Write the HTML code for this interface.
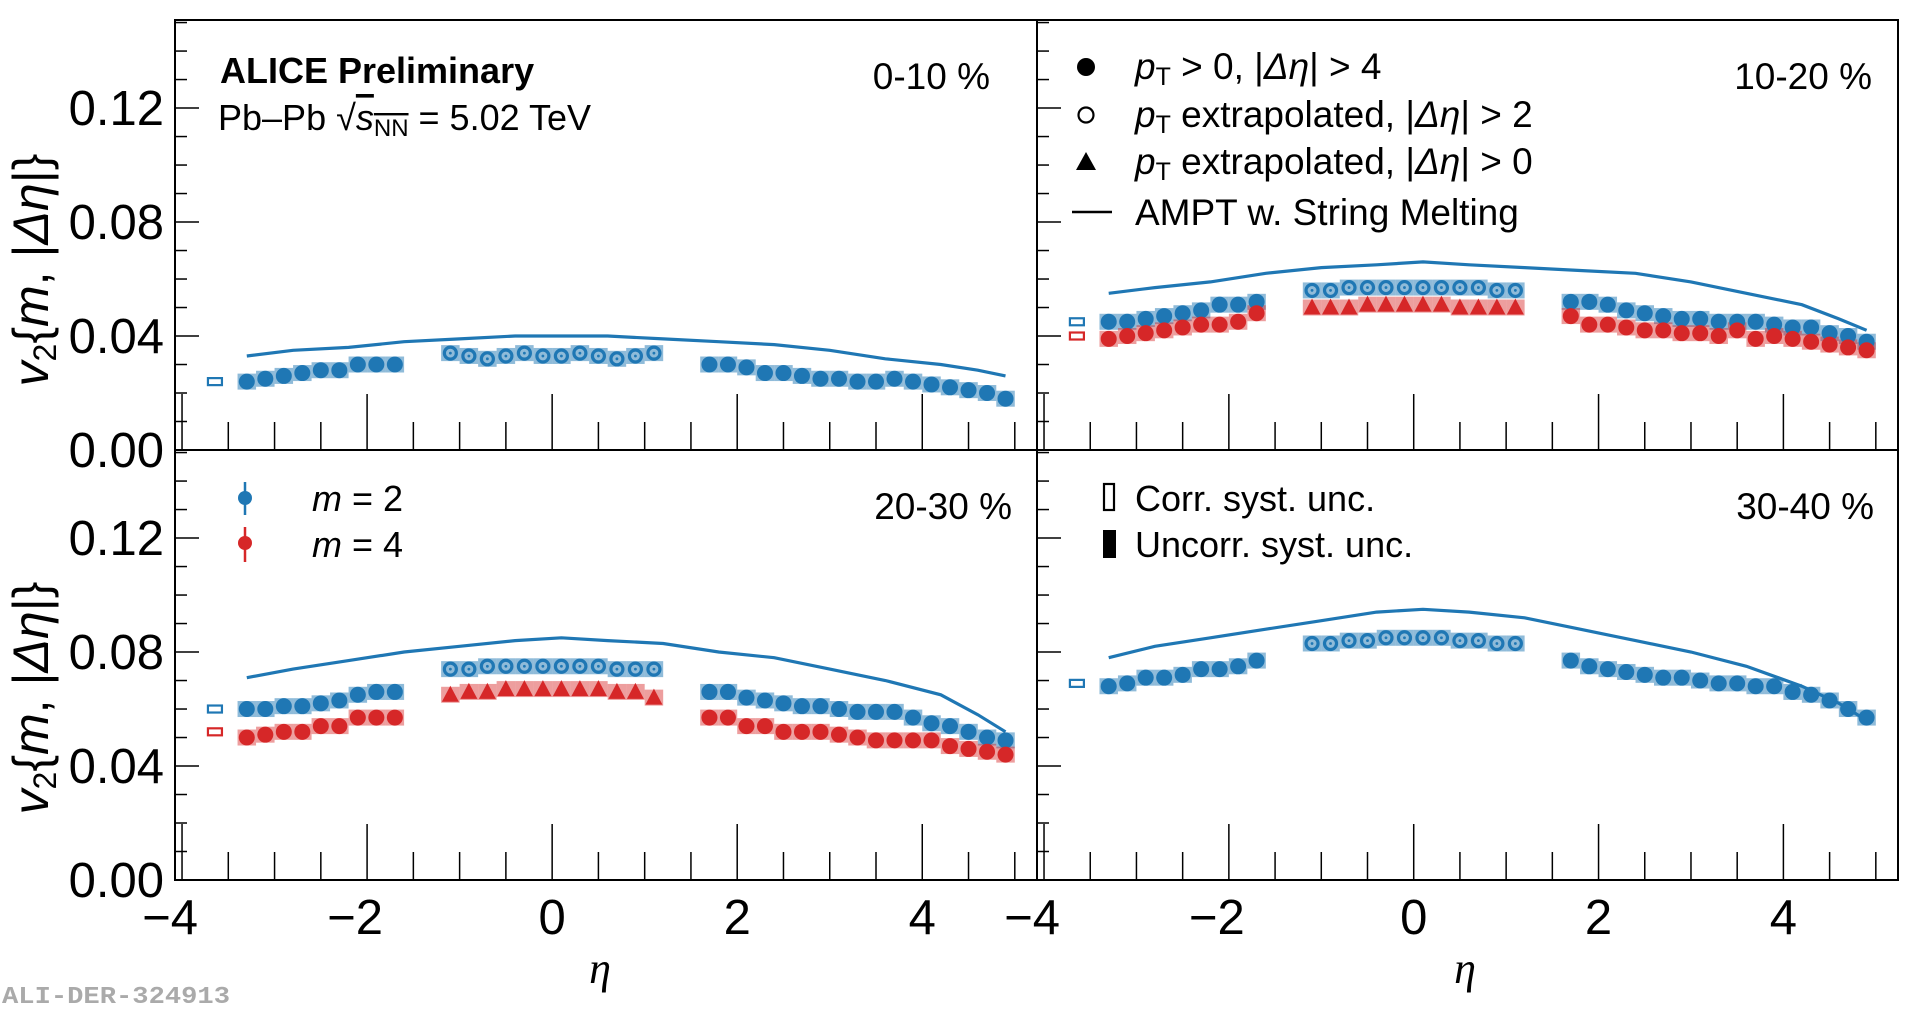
<!DOCTYPE html>
<html><head><meta charset="utf-8"><style>
html,body{margin:0;padding:0;background:#fff;width:1920px;height:1011px;overflow:hidden}
svg{display:block;font-family:"Liberation Sans",sans-serif}
</style></head><body>
<svg id="chart" width="1920" height="1011" viewBox="0 0 1920 1011" xmlns="http://www.w3.org/2000/svg"></svg>
<script>
// ---- data ----
const etaLeft = [-3.3,-3.1,-2.9,-2.7,-2.5,-2.3,-2.1,-1.9,-1.7];
const etaMid = [-1.1,-0.9,-0.7,-0.5,-0.3,-0.1,0.1,0.3,0.5,0.7,0.9,1.1];
const etaRight = [1.7,1.9,2.1,2.3,2.5,2.7,2.9,3.1,3.3,3.5,3.7,3.9,4.1,4.3,4.5,4.7,4.9];
const etaAmpt = [-3.3,-2.8,-2.2,-1.6,-1.0,-0.4,0.1,0.6,1.2,1.8,2.4,3.0,3.6,4.2,4.6,4.9];
const panelLabels = ["0-10 %","10-20 %","20-30 %","30-40 %"];
const yTickLabels = ["0.00","0.04","0.08","0.12"];
const yTickValues = [0,0.04,0.08,0.12];
const xTickValues = [-4,-2,0,2,4];
const xTickLabels = ["\u22124","\u22122","0","2","4"];

// panel 1 (0-10%)
const p1m2Left = [0.024,0.025,0.026,0.027,0.028,0.028,0.030,0.030,0.030];
const p1m2Mid = [0.034,0.033,0.032,0.033,0.034,0.033,0.033,0.034,0.033,0.032,0.033,0.034];
const p1m2Right = [0.030,0.030,0.029,0.027,0.027,0.026,0.025,0.025,0.024,0.024,0.025,0.024,0.023,0.022,0.021,0.020,0.018];
const p1Ampt = [0.033,0.035,0.036,0.038,0.039,0.040,0.040,0.040,0.039,0.038,0.037,0.035,0.032,0.030,0.028,0.026];
const p1Corr = [0.024];
// panel 2 (10-20%)
const p2m2Left = [0.045,0.045,0.046,0.047,0.048,0.049,0.051,0.051,0.052];
const p2m4Left = [0.039,0.040,0.041,0.042,0.043,0.044,0.044,0.045,0.048];
const p2m2Mid = [0.056,0.056,0.057,0.057,0.057,0.057,0.057,0.057,0.057,0.057,0.056,0.056];
const p2m4Mid = [0.050,0.050,0.050,0.051,0.051,0.051,0.051,0.051,0.050,0.050,0.050,0.050];
const p2m2Right = [0.052,0.052,0.051,0.049,0.048,0.047,0.046,0.046,0.045,0.045,0.045,0.044,0.043,0.043,0.041,0.040,0.038];
const p2m4Right = [0.047,0.044,0.044,0.043,0.042,0.042,0.041,0.041,0.040,0.042,0.039,0.040,0.039,0.038,0.037,0.036,0.035];
const p2Ampt = [0.055,0.057,0.059,0.062,0.064,0.065,0.066,0.065,0.064,0.063,0.062,0.059,0.055,0.051,0.046,0.042];
const p2Corr = [0.045,0.040];
// panel 3 (20-30%)
const p3m2Left = [0.060,0.060,0.061,0.061,0.062,0.063,0.065,0.066,0.066];
const p3m4Left = [0.050,0.051,0.052,0.052,0.054,0.054,0.057,0.057,0.057];
const p3m2Mid = [0.074,0.074,0.075,0.075,0.075,0.075,0.075,0.075,0.075,0.074,0.074,0.074];
const p3m4Mid = [0.065,0.066,0.066,0.067,0.067,0.067,0.067,0.067,0.067,0.066,0.066,0.064];
const p3m2Right = [0.066,0.066,0.064,0.063,0.062,0.061,0.061,0.060,0.059,0.059,0.059,0.057,0.055,0.054,0.052,0.050,0.049];
const p3m4Right = [0.057,0.057,0.054,0.054,0.052,0.052,0.052,0.051,0.050,0.049,0.049,0.049,0.049,0.047,0.046,0.045,0.044];
const p3Ampt = [0.071,0.074,0.077,0.080,0.082,0.084,0.085,0.084,0.083,0.080,0.078,0.074,0.070,0.065,0.058,0.052];
const p3Corr = [0.060,0.052];
// panel 4 (30-40%)
const p4m2Left = [0.068,0.069,0.071,0.071,0.072,0.074,0.074,0.075,0.077];
const p4m2Mid = [0.083,0.083,0.084,0.084,0.085,0.085,0.085,0.085,0.084,0.084,0.083,0.083];
const p4m2Right = [0.077,0.075,0.074,0.073,0.072,0.071,0.071,0.070,0.069,0.069,0.068,0.068,0.066,0.065,0.063,0.060,0.057];
const p4Ampt = [0.078,0.082,0.085,0.088,0.091,0.094,0.095,0.094,0.092,0.088,0.084,0.080,0.075,0.068,0.062,0.056];
const p4Corr = [0.069];

const BLUE="#1f77b4", RED="#d62728", LBLUE="rgba(31,119,180,0.5)", LRED="rgba(214,39,40,0.45)";
const NS="http://www.w3.org/2000/svg";
const svg=document.getElementById('chart');
function el(tag,attrs,parent){const e=document.createElementNS(NS,tag);for(const k in attrs)e.setAttribute(k,attrs[k]);(parent||svg).appendChild(e);return e;}

const XMIN=-4.076, XMAX=5.24, YMAX=0.1509;
const panels=[
 {x0:175,x1:1037,y0:20,y1:450},{x0:1037,x1:1898,y0:20,y1:450},
 {x0:175,x1:1037,y0:450,y1:880},{x0:1037,x1:1898,y0:450,y1:880}];
function sx(p,v){return p.x0+(v-XMIN)/(XMAX-XMIN)*(p.x1-p.x0);}
function sy(p,v){return p.y1-v/YMAX*(p.y1-p.y0);}

function drawBand(g,p,etas,vals,col,name){
 etas.forEach((e,i)=>{const r=el('rect',{x:sx(p,e-0.1),y:sy(p,vals[i])-8,width:sx(p,e+0.1)-sx(p,e-0.1),height:16,fill:col},g);
 
 });
}
function drawMarkers(g,p,etas,vals,col,type,name){
 etas.forEach((e,i)=>{const cx=sx(p,e),cy=sy(p,vals[i]);let m;
  if(type==='dot'){m=el('circle',{cx,cy,r:8,fill:col},g);}
  else if(type==='open'){m=el('g',{},g);el('circle',{cx,cy,r:6,fill:'none',stroke:col,'stroke-width':3.2},m);el('circle',{cx,cy,r:1.4,fill:col},m);}
  else {m=el('polygon',{points:`${cx},${cy-9} ${cx+8.5},${cy+7} ${cx-8.5},${cy+7}`,fill:col},g);}
  
  
 });
}
function drawLine(g,p,etas,vals,name){
 const d=etas.map((e,i)=>(i?'L':'M')+sx(p,e).toFixed(1)+' '+sy(p,vals[i]).toFixed(1)).join(' ');
 const l=el('path',{d,fill:'none',stroke:BLUE,'stroke-width':3.2},g);
 
 
}
function drawCorr(g,p,v,col,name){
 const r=el('rect',{x:sx(p,-3.72),y:sy(p,v)-3.5,width:14,height:7,fill:'#fff',stroke:col,'stroke-width':2.2},g);
 
 
}

const panelData=[
 {m2:[p1m2Left,p1m2Mid,p1m2Right],m4:null,ampt:p1Ampt,corr:p1Corr},
 {m2:[p2m2Left,p2m2Mid,p2m2Right],m4:[p2m4Left,p2m4Mid,p2m4Right],ampt:p2Ampt,corr:p2Corr},
 {m2:[p3m2Left,p3m2Mid,p3m2Right],m4:[p3m4Left,p3m4Mid,p3m4Right],ampt:p3Ampt,corr:p3Corr},
 {m2:[p4m2Left,p4m2Mid,p4m2Right],m4:null,ampt:p4Ampt,corr:p4Corr}];

panels.forEach((p,pi)=>{
 const g=el('g',{});
 
 
 const D=panelData[pi];
 for(let k=0;k<=15;k++){const v=k*0.01;if(v>YMAX)break;const y=sy(p,v);const len=(k%4===0)?24:12;
  el('line',{x1:p.x0,y1:y,x2:p.x0+len,y2:y,stroke:'#000','stroke-width':1.5},g);}
 for(let k=-8;k<=10;k++){const v=k*0.5;if(v<XMIN||v>XMAX)continue;const x=sx(p,v);
  el('line',{x1:x,y1:p.y1,x2:x,y2:p.y1-((k%4===0)?56:28),stroke:'#000','stroke-width':1.5},g);}
 const sets=[etaLeft,etaMid,etaRight];
 sets.forEach((E,si)=>{drawBand(g,p,E,D.m2[si],LBLUE,'m2');if(D.m4)drawBand(g,p,E,D.m4[si],LRED,'m4');});
 drawLine(g,p,etaAmpt,D.ampt,'ampt-line');
 sets.forEach((E,si)=>{const t=si===1?'open':'dot';drawMarkers(g,p,E,D.m2[si],BLUE,t,'m2');
  if(D.m4)drawMarkers(g,p,E,D.m4[si],RED,si===1?'tri':'dot','m4');});
 drawCorr(g,p,D.corr[0],BLUE,'m2-corr-syst-box');
 if(D.corr[1]!==undefined)drawCorr(g,p,D.corr[1],RED,'m4-corr-syst-box');
 const lab=el('text',{x:[990,1872,1012,1874][pi],y:[76,76,506,506][pi]+13,'font-size':37,'text-anchor':'end'},g);
 lab.textContent=panelLabels[pi];
 
 
});
el('rect',{x:175,y:20,width:1723,height:860,fill:'none',stroke:'#000','stroke-width':2});
el('line',{x1:1037,y1:20,x2:1037,y2:880,stroke:'#000','stroke-width':2});
el('line',{x1:175,y1:450,x2:1898,y2:450,stroke:'#000','stroke-width':2});

[panels[0],panels[2]].forEach(p=>{yTickValues.forEach((v,i)=>{const t=el('text',{x:164,y:sy(p,v)+17,'font-size':49,'text-anchor':'end'});
 t.textContent=yTickLabels[i];
 
 });});
[panels[2],panels[3]].forEach(p=>{xTickValues.forEach((v,i)=>{const t=el('text',{x:sx(p,v)-(v<0?12:0),y:934,'font-size':49,'text-anchor':'middle'});
 t.textContent=xTickLabels[i];
 
 });});
[270,698].forEach(cy=>{const t=el('text',{x:0,y:0,'font-size':50,'text-anchor':'middle',transform:`translate(48 ${cy}) rotate(-90)`});
 t.innerHTML='<tspan font-style="italic">v</tspan><tspan font-size="32" dy="8">2</tspan><tspan dy="-8">{</tspan><tspan font-style="italic">m</tspan>, |<tspan font-style="italic">Δη</tspan>|}';
 
 });
[600,1465].forEach(cx=>{const t=el('text',{x:cx,y:983,'font-size':44,'font-style':'italic','font-family':'Liberation Serif, serif','text-anchor':'middle'});
 t.textContent='η';
 
 });

function txt(x,y,size,html,name,extra){const t=el('text',Object.assign({x,y,'font-size':size},extra||{}));t.innerHTML=html;
 
 return t;}
txt(220,83,36,'ALICE Preliminary','alice-preliminary-label',{'font-weight':'bold'});
txt(218,130,36,'Pb–Pb <tspan>√</tspan><tspan font-style="italic" text-decoration="overline">s</tspan><tspan font-size="24" dy="6" text-decoration="overline">NN</tspan><tspan dy="-6"> = 5.02 TeV</tspan>','collision-system-label');

const lg=el('g',{});


el('circle',{cx:1086,cy:67,r:9,fill:'#000'},lg);
el('circle',{cx:1086,cy:115,r:7.5,fill:'none',stroke:'#000','stroke-width':2.2},lg);
el('polygon',{points:'1086,152 1096,170 1076,170',fill:'#000'},lg);
el('line',{x1:1072,y1:212,x2:1112,y2:212,stroke:'#000','stroke-width':2.5},lg);
txt(1135,79,37,'<tspan font-style="italic">p</tspan><tspan font-size="25" dy="6">T</tspan><tspan dy="-6"> &gt; 0, |</tspan><tspan font-style="italic">Δη</tspan>| &gt; 4','legend-entry-pt-gt0');
txt(1135,127,37,'<tspan font-style="italic">p</tspan><tspan font-size="25" dy="6">T</tspan><tspan dy="-6"> extrapolated, |</tspan><tspan font-style="italic">Δη</tspan>| &gt; 2','legend-entry-extrap-2');
txt(1135,174,37,'<tspan font-style="italic">p</tspan><tspan font-size="25" dy="6">T</tspan><tspan dy="-6"> extrapolated, |</tspan><tspan font-style="italic">Δη</tspan>| &gt; 0','legend-entry-extrap-0');
txt(1135,225,37,'AMPT w. String Melting','legend-entry-ampt');
el('line',{x1:245,y1:482,x2:245,y2:515,stroke:BLUE,'stroke-width':2.5});
el('circle',{cx:245,cy:498,r:7,fill:BLUE});
el('line',{x1:245,y1:527,x2:245,y2:562,stroke:RED,'stroke-width':2.5});
el('circle',{cx:245,cy:543,r:7,fill:RED});
txt(312,511,36,'<tspan font-style="italic">m</tspan> = 2','legend-entry-m2');
txt(312,557,36,'<tspan font-style="italic">m</tspan> = 4','legend-entry-m4');
el('rect',{x:1104,y:484,width:10,height:26,fill:'#fff',stroke:'#000','stroke-width':2.2});
el('rect',{x:1103,y:530,width:13,height:28,fill:'#000'});
txt(1135,511,36,'Corr. syst. unc.','legend-entry-corr-syst');
txt(1135,557,36,'Uncorr. syst. unc.','legend-entry-uncorr-syst');
txt(2,1003,24,'ALI-DER-324913','figure-id-label',{'font-family':'Liberation Mono, monospace','font-weight':'bold',fill:'#aaa',textLength:228,lengthAdjust:'spacingAndGlyphs'});
</script>
</body></html>
